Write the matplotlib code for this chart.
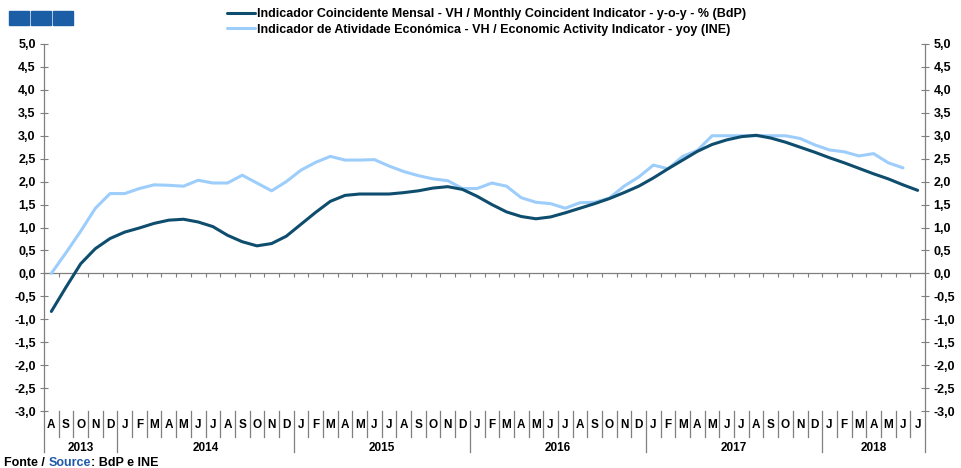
import numpy as np
import matplotlib.pyplot as plt
from matplotlib.patches import Rectangle
from matplotlib.lines import Line2D
import matplotlib.transforms as mtransforms

plt.rcParams['font.family'] = ['Liberation Sans', 'DejaVu Sans']
plt.rcParams['font.weight'] = 'bold'

# monthly data, Aug 2013 - Jul 2018
month_letters = list('ASOND' + 'JFMAMJJASOND' * 4 + 'JFMAMJJ')
year_labels = ['2013', '2014', '2015', '2016', '2017', '2018']
months_per_year = [5, 12, 12, 12, 12, 7]

coincident = [-0.83, -0.30, 0.21, 0.54, 0.76, 0.90, 0.99, 1.09, 1.16, 1.18,
              1.12, 1.02, 0.83, 0.69, 0.60, 0.65, 0.81, 1.07, 1.33, 1.57,
              1.70, 1.73, 1.73, 1.73, 1.76, 1.80, 1.86, 1.89, 1.83, 1.68,
              1.50, 1.34, 1.24, 1.19, 1.23, 1.32, 1.42, 1.52, 1.63, 1.76,
              1.90, 2.08, 2.28, 2.47, 2.66, 2.81, 2.91, 2.98, 3.01, 2.95,
              2.86, 2.75, 2.64, 2.52, 2.41, 2.29, 2.17, 2.06, 1.93, 1.81]

activity = [0.00, 0.45, 0.92, 1.42, 1.74, 1.74, 1.85, 1.93, 1.92, 1.90,
            2.03, 1.97, 1.97, 2.14, 1.97, 1.80, 2.00, 2.25, 2.42, 2.55,
            2.47, 2.47, 2.48, 2.34, 2.22, 2.13, 2.06, 2.02, 1.85, 1.85,
            1.97, 1.90, 1.65, 1.55, 1.52, 1.42, 1.54, 1.55, 1.64, 1.90,
            2.10, 2.36, 2.28, 2.55, 2.68, 3.00, 3.00, 3.00, 3.00, 3.00,
            3.00, 2.94, 2.80, 2.69, 2.65, 2.56, 2.61, 2.41, 2.30]

dark = '#0e4d6e'
light = '#9dcdfb'
grey = '#7f7f7f'

fig = plt.figure(figsize=(9.61, 4.68), dpi=100)
ax = fig.add_axes([44 / 961, 1 - 411 / 468, 881 / 961, 367 / 468])

x1 = np.arange(len(coincident))
x2 = np.arange(len(activity))
ax.plot(x1, coincident, color=dark, lw=2.2, solid_capstyle='round', zorder=4,
        label='Indicador Coincidente Mensal - VH / Monthly Coincident Indicator - y-o-y - % (BdP)')
ax.plot(x2, activity, color=light, lw=2.2, solid_capstyle='round', zorder=3,
        label='Indicador de Atividade Económica - VH / Economic Activity Indicator - yoy (INE)')

n = len(month_letters)
ax.set_xlim(-0.5, n - 0.5)
ax.set_ylim(-3, 5)
yt = np.arange(-3, 5.01, 0.5)
ax.set_yticks(yt)
ax.set_yticklabels([f'{v:.1f}'.replace('.', ',') for v in yt])
ax.tick_params(axis='y', left=True, right=True, labelleft=True, labelright=True,
               direction='inout', length=6, width=0.8, color=grey,
               labelsize=9, pad=3)

# zero line as bottom spine with month boundary ticks
ax.spines['top'].set_visible(False)
ax.spines['bottom'].set_position(('data', 0))
for s in ['bottom', 'left', 'right']:
    ax.spines[s].set_color(grey)
    ax.spines[s].set_linewidth(0.9)
ax.set_xticks(np.arange(0.5, n - 0.5, 1))
ax.tick_params(axis='x', direction='out', length=3, width=0.8, color=grey,
               labelbottom=False)

# category labels below the plot
trans = mtransforms.blended_transform_factory(ax.transData, ax.transAxes)
y_month = -0.038
y_year = -0.1
for i, m in enumerate(month_letters):
    ax.text(i, y_month, m, transform=trans, ha='center', va='center', fontsize=8.5)

start = 0
for yl, cnt in zip(year_labels, months_per_year):
    ax.text(start + (cnt - 1) / 2, y_year, yl, transform=trans, ha='center',
            va='center', fontsize=8.5)
    start += cnt

year_bounds = np.cumsum(months_per_year)[:-1] - 0.5
for b in np.arange(0.5, n - 0.5, 1):
    low = -0.112 if b in year_bounds else -0.071
    ax.add_line(Line2D([b, b], [0, low], transform=trans, color=grey, lw=0.9,
                       clip_on=False))
for b in [-0.5, n - 0.5]:
    ax.add_line(Line2D([b, b], [0, -0.112], transform=trans, color=grey, lw=0.9,
                       clip_on=False))

# legend
fig.legend(loc='upper left', bbox_to_anchor=(222 / 961, 1 - 3 / 468),
           frameon=False, fontsize=9, handlelength=2.2, handletextpad=0.2,
           labelspacing=0.3, borderaxespad=0)

# three squares top-left
for x0 in [9, 31, 53]:
    fig.patches.append(Rectangle((x0 / 961, 1 - 25 / 468), 20 / 961, 14 / 468,
                                 transform=fig.transFigure, color='#1b5ea6'))

# source
t1 = fig.text(4 / 961, 1 - 463 / 468, 'Fonte / ', fontsize=9, va='center')
t2 = ax.annotate('Source', xy=(1, 0), xycoords=t1, va='bottom', fontsize=9,
                 color='#1f5aa8')
ax.annotate(': BdP e INE', xy=(1, 0), xycoords=t2, va='bottom', fontsize=9)

fig.savefig('out.png', dpi=100)
